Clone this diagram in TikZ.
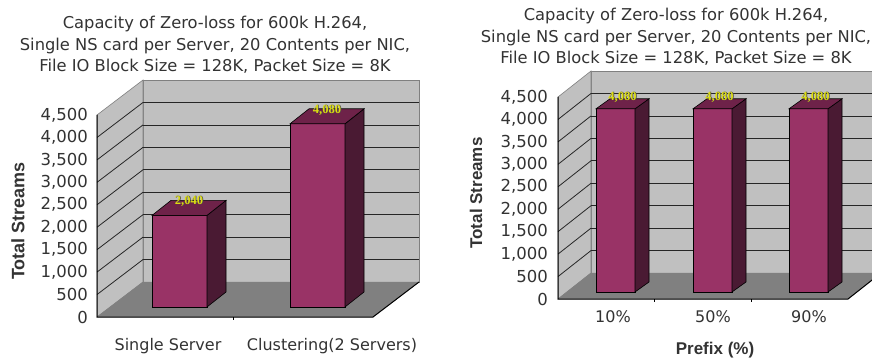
\documentclass[tikz,border=0pt]{standalone}
\usepackage{fontspec}
\setmainfont{DejaVu Sans}
\newfontfamily\arialfont{Liberation Sans}
\newfontfamily\timesfont{Liberation Serif}
\definecolor{wallgray}{HTML}{C0C0C0}
\definecolor{floorgray}{HTML}{808080}
\definecolor{plumfront}{HTML}{993366}
\definecolor{plumtop}{HTML}{6E2249}
\definecolor{plumside}{HTML}{4A1A33}
\definecolor{valyellow}{HTML}{DCDC10}
% front corner (x,y), width, height, then depth (dx,dy)
\def\plumbar(#1,#2,#3,#4)(#5,#6){%
\draw[bar edge, fill=plumfront] (#1,#2) rectangle ++(#3,-#4);
\draw[bar edge, fill=plumside] (#1+#3,#2) -- ++(#5,-#6) -- ++(0,-#4) -- ++(-#5,#6) -- cycle;
\draw[bar edge, fill=plumtop] (#1,#2-#4) -- ++(#5,-#6) -- ++(#3,0) -- ++(-#5,#6) -- cycle;}
\tikzset{
  wall/.style={fill=wallgray, draw=floorgray, line width=0.6pt},
  floor/.style={fill=floorgray, draw=floorgray},
  grid line/.style={line width=0.8pt, color=black!85},
  bar edge/.style={line width=0.6pt, draw=black},
  axis line/.style={line width=1pt, color=black},
  tick lbl/.style={anchor=east, font=\fontsize{16.5}{16.5}\selectfont, text=black!80, inner sep=0pt},
  cat lbl/.style={font=\fontsize{16}{16}\selectfont, text=black!80, inner sep=0pt},
  title lbl/.style={align=center, font=\fontsize{16.3}{21.5}\selectfont, text=black!80, inner sep=0pt},
  axis title/.style={font=\arialfont\bfseries\fontsize{17}{17}\selectfont, text=black!80, inner sep=0pt},
  val shadow/.style={font=\timesfont\bfseries\fontsize{12.5}{12.5}\selectfont, text=black!70, inner sep=0pt},
  val lbl/.style={font=\timesfont\bfseries\fontsize{12.5}{12.5}\selectfont, text=valyellow, inner sep=0pt}
}
\begin{document}
\begin{tikzpicture}[x=1pt, y=-1pt]
			%%%%% FRAME %%%%%
			\useasboundingbox (0,0) rectangle (872,363);
			\fill[white] (0,0) rectangle (872,363);
			\clip (0,0) rectangle (872,363);
			
			%%%%% LEFT CHART %%%%%
			\node[title lbl] (ltitle) at (215,45) {Capacity of Zero-loss for 600k H.264,\\ Single NS card per Server, 20 Contents per NIC,\\ File IO Block Size = 128K, Packet Size = 8K};
			
			\draw[wall] (143,80) rectangle (419,282);
			\draw[wall] (97,115) -- (143,80) -- (143,282) -- (97,317) -- cycle;
			\foreach \k in {1,...,8}{
				\draw[grid line] (143,{282-22.44*\k}) -- (419,{282-22.44*\k});
				\draw[grid line] (97,{317-22.44*\k}) -- (143,{282-22.44*\k});
			}
			\draw[floor] (97,317) -- (143,282) -- (419,282) -- (373,317) -- cycle;
			
			\plumbar(152,307,55,91.6)(19,15)
			\plumbar(290,307,55,183.2)(19,15)
			
			\draw[axis line] (97,115) -- (97,317) -- (373,317) -- (419,282);
			\draw[axis line] (233,317) -- (233,320);
			
			\foreach \k/\t in {0/0,1/500,2/{1,000},3/{1,500},4/{2,000},5/{2,500},6/{3,000},7/{3,500},8/{4,000},9/{4,500}}
				\node[tick lbl] (ltick\k) at (88,{317-22.44*\k}) {\t};
			
			\node[val shadow] (lval1s) at (189.7,201.7) {2,040};
			\node[val lbl] (lval1) at (189,201) {2,040};
			\node[val shadow] (lval2s) at (327.7,110.7) {4,080};
			\node[val lbl] (lval2) at (327,110) {4,080};
			
			\node[cat lbl] (lcat1) at (168,346) {Single Server};
			\node[cat lbl] (lcat2) at (332,346) {Clustering(2 Servers)};
			\node[axis title, font=\arialfont\bfseries\fontsize{18}{18}\selectfont, rotate=90] (lytitle) at (18,221) {Total Streams};
			
			%%%%% RIGHT CHART %%%%%
			\node[title lbl] (rtitle) at (676,37) {Capacity of Zero-loss for 600k H.264,\\ Single NS card per Server, 20 Contents per NIC,\\ File IO Block Size = 128K, Packet Size = 8K};
			
			\draw[wall] (591,71) rectangle (881,273);
			\draw[wall] (558,97) -- (591,71) -- (591,273) -- (558,299) -- cycle;
			\foreach \k in {1,...,8}{
				\draw[grid line] (591,{273-22.44*\k}) -- (881,{273-22.44*\k});
				\draw[grid line] (558,{299-22.44*\k}) -- (591,{273-22.44*\k});
			}
			\draw[floor] (558,299) -- (591,273) -- (881,273) -- (848,299) -- cycle;
			
			\plumbar(596,292,39,183.2)(14,10)
			\plumbar(693,292,39,183.2)(14,10)
			\plumbar(789,292,39,183.2)(14,10)
			
			\draw[axis line] (558,97) -- (558,299) -- (848,299) -- (881,273);
			\draw[axis line] (654.7,299) -- (654.7,302);
			\draw[axis line] (751.3,299) -- (751.3,302);
			
			\foreach \k/\t in {0/0,1/500,2/{1,000},3/{1,500},4/{2,000},5/{2,500},6/{3,000},7/{3,500},8/{4,000},9/{4,500}}
				\node[tick lbl] (rtick\k) at (548,{299-22.44*\k}) {\t};
			
			\foreach \x [count=\i] in {622.5,719.5,815.5}{
				\node[val shadow] (rval\i s) at (\x+0.7,97.7) {4,080};
				\node[val lbl] (rval\i) at (\x,97) {4,080};
			}
			
			\node[cat lbl] (rcat1) at (613,317) {10\%};
			\node[cat lbl] (rcat2) at (713,317) {50\%};
			\node[cat lbl] (rcat3) at (809,317) {90\%};
			\node[axis title] (rxtitle) at (715,350) {Prefix (\%)};
			\node[axis title, rotate=90] (rytitle) at (476,193) {Total Streams};
			
			%%%%% END %%%%%
		\end{tikzpicture}
\end{document}
